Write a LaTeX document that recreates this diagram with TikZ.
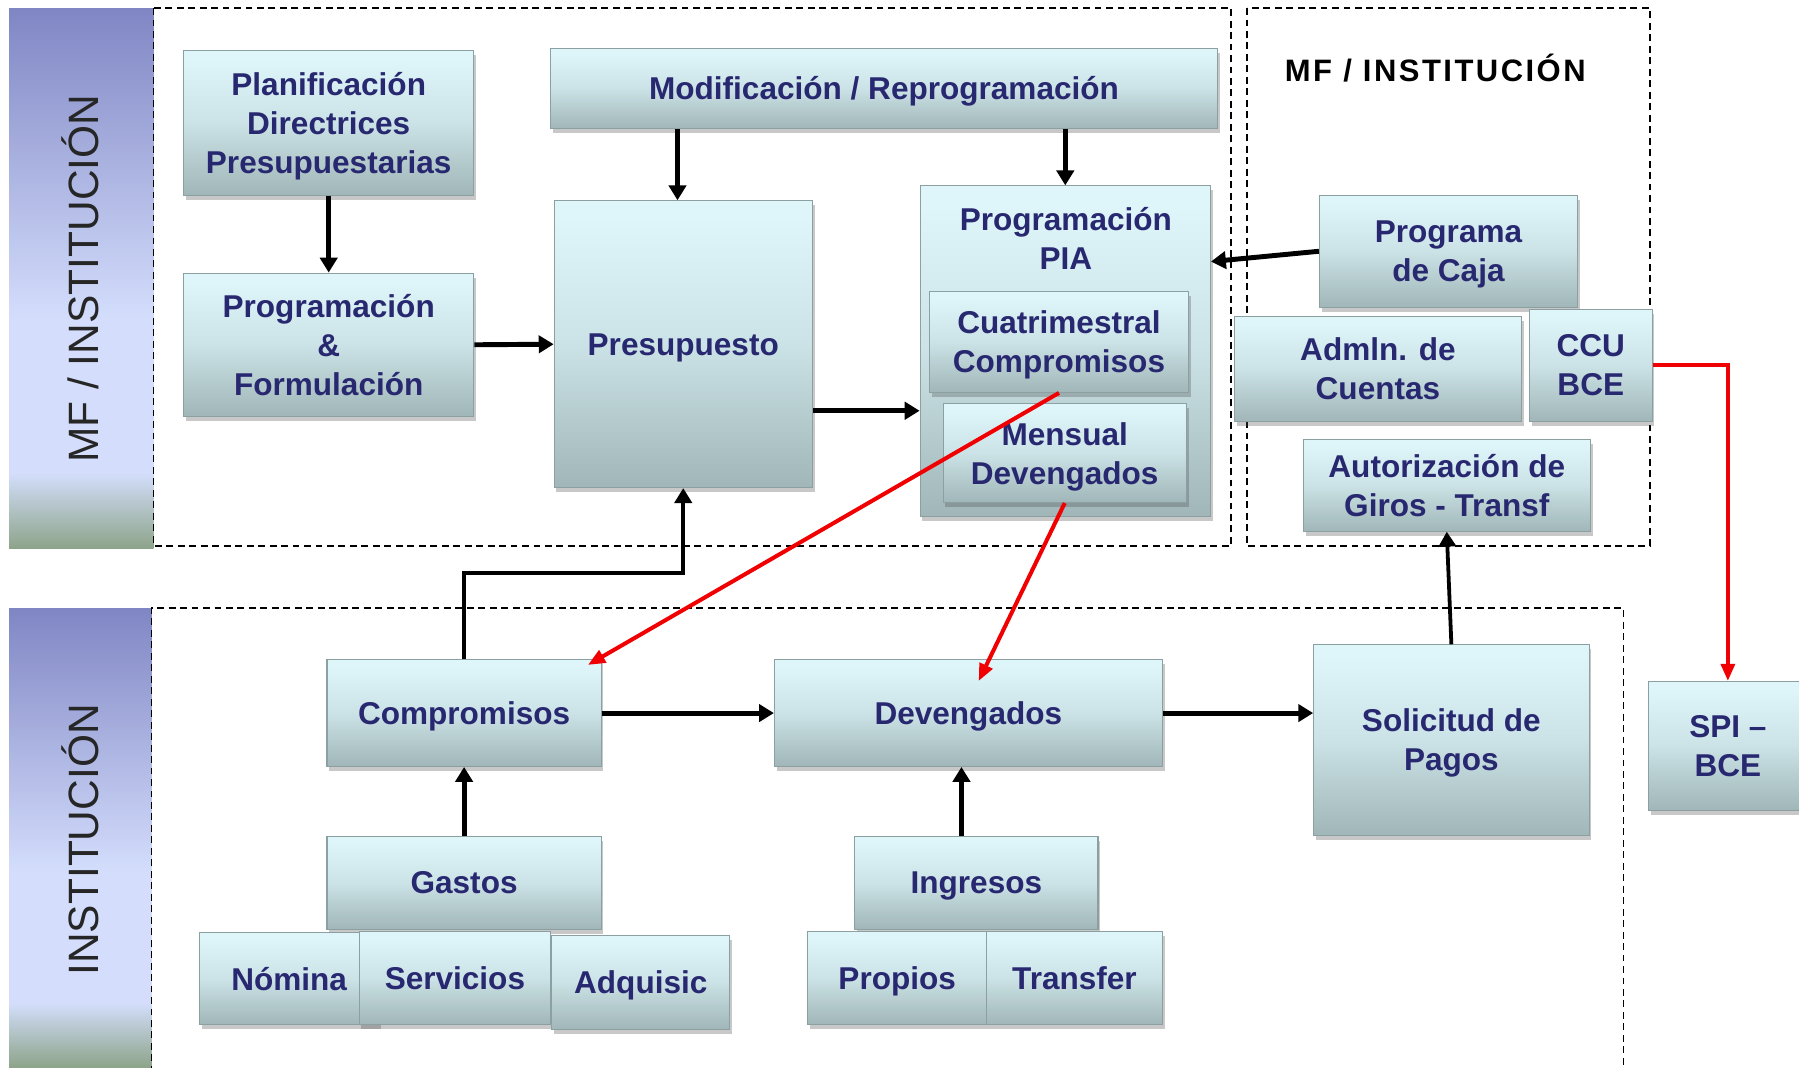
\documentclass[tikz,border=0pt]{standalone}
\usepackage{fontspec}
\setmainfont{Liberation Sans}
\usetikzlibrary{shadows,arrows.meta,calc}
\definecolor{navy}{RGB}{40,40,112}
\definecolor{boxtop}{RGB}{222,245,249}
\definecolor{boxmid}{RGB}{203,226,230}
\definecolor{boxbot}{RGB}{160,182,184}
\definecolor{boxedge}{RGB}{140,160,162}
\definecolor{bandtop}{RGB}{128,134,196}
\definecolor{bandmid}{RGB}{212,222,252}
\definecolor{bandbot}{RGB}{141,164,138}
\definecolor{redline}{RGB}{240,0,0}
\pgfdeclareverticalshading{boxshade}{100bp}{color(0bp)=(boxbot); color(25bp)=(boxbot); color(50bp)=(boxmid); color(72bp)=(boxtop); color(100bp)=(boxtop)}
\pgfdeclareverticalshading{bandshade}{100bp}{color(0bp)=(bandbot); color(25bp)=(bandbot); color(32bp)=(bandmid); color(46bp)=(bandmid); color(75bp)=(bandtop); color(100bp)=(bandtop)}
\tikzset{
  box/.style={draw=boxedge, line width=0.9pt, shade, shading=boxshade, text=navy,
    font=\fontsize{27.5}{34}\selectfont\bfseries, align=center, inner sep=0pt, text depth=0pt,
    drop shadow={shadow xshift=2pt, shadow yshift=-4pt, opacity=0.3, fill=black!70}},
  plain/.style={text=navy, font=\fontsize{27.5}{34}\selectfont\bfseries, align=center, inner sep=0pt},
  blk/.style={draw=black, line width=4.3pt, -{Triangle[length=13pt,width=15pt]}},
  redarr/.style={draw=redline, line width=3.5pt, -{Triangle[length=15pt,width=12pt]}},
  region/.style={draw=black, line width=1.3pt, dash pattern=on 6pt off 4pt},
  bandtext/.style={rotate=90, font=\fontsize{37}{40}\selectfont, text=black!85},
}
\begin{document}
\begin{tikzpicture}[x=1pt,y=-1pt]
\clip (0,0) rectangle (1568,930);
\fill[white] (0,0) rectangle (1568,930);
% side bands
\shade[shading=bandshade] (8,7) rectangle (134,478);
\shade[shading=bandshade] (8,530) rectangle (132,930);
\node[bandtext] (bandA) at (70,243) {MF / INSTITUCIÓN};
\node[bandtext] (bandB) at (70,732) {INSTITUCIÓN};
% dashed regions
\draw[region] (134,7) rectangle (1073,476);
\draw[region] (1087,7) rectangle (1438,476);
\draw[region] (132,935) -- (132,530) -- (1415,530) -- (1415,935);
\node[font=\fontsize{27}{30}\selectfont\bfseries\addfontfeature{LetterSpace=8}] (head) at (1251,59) {MF / INSTITUCIÓN};
% top-left boxes
\node[box, minimum width=253pt, minimum height=126pt] (plan) at (286.5,107) {Planificación\\Directrices\\Presupuestarias};
\node[box, minimum width=253pt, minimum height=125pt] (progf) at (286.5,300.5) {Programación\\\&\\Formulación};
\node[box, minimum width=581pt, minimum height=70pt] (modif) at (770.5,77) {Modificación / Reprogramación};
\node[box, minimum width=225pt, minimum height=250pt] (presu) at (595.5,300) {Presupuesto};
\node[box, minimum width=253pt, minimum height=288pt] (pia) at (928.5,306) {};
\node[plain] (pialbl) at (929,208) {Programación\\PIA};
\node[box, minimum width=226pt, minimum height=88pt] (cuat) at (923,298) {Cuatrimestral\\Compromisos};
\node[box, minimum width=212pt, minimum height=86pt] (mens) at (928,395) {Mensual\\Devengados};
% top-right boxes
\node[box, minimum width=225pt, minimum height=98pt] (caja) at (1262.5,219) {Programa\\de Caja};
\node[box, minimum width=250pt, minimum height=91pt] (admin) at (1201,321.5) {Admln. de\\Cuentas};
\node[box, minimum width=107pt, minimum height=97pt] (ccu) at (1386.5,318.5) {CCU\\BCE};
\node[box, minimum width=250pt, minimum height=80pt] (autor) at (1261,423) {Autorización de\\Giros - Transf};
% bottom boxes
\node[box, minimum width=239pt, minimum height=93pt] (comp) at (404.5,621.5) {Compromisos};
\node[box, minimum width=338pt, minimum height=93pt] (deven) at (844,621.5) {Devengados};
\node[box, minimum width=240pt, minimum height=166pt] (solic) at (1265,645) {Solicitud de\\Pagos};
\node[box, minimum width=138pt, minimum height=112pt] (spi) at (1506,650) {SPI –\\BCE};
\node[box, minimum width=239pt, minimum height=81pt] (gastos) at (404.5,769.5) {Gastos};
\node[box, minimum width=156pt, minimum height=80pt] (nomina) at (252,853) {Nómina};
\node[box, minimum width=167pt, minimum height=81pt] (serv) at (396.5,852.5) {Servicios};
\node[box, minimum width=155pt, minimum height=82pt] (adq) at (558.5,856) {Adquisic};
\node[box, minimum width=212pt, minimum height=81pt] (ingr) at (851,769.5) {Ingresos};
\node[box, minimum width=156pt, minimum height=81pt] (propios) at (782,852.5) {Propios};
\node[box, minimum width=153pt, minimum height=81pt] (transf) at (936.5,852.5) {Transfer};
% black connectors
\draw[blk] (plan.south) -- (progf.north);
\draw[blk] (progf.east) -- (presu.west);
\draw[blk] ([xshift=-5pt]modif.south -| presu.north) -- ([xshift=-5pt]presu.north);
\draw[blk] (modif.south -| pia.north) -- (pia.north);
\draw[blk] ([yshift=-58pt]presu.east) -- ([yshift=-58pt]presu.east -| pia.west);
\draw[blk] (caja.west) -- ([yshift=78pt]pia.east);
\draw[blk, line width=3.3pt] (comp.north) -- ++(0,-75) -| (presu.south);
\draw[blk] (gastos.north) -- (comp.south);
\draw[blk] (comp.east) -- (deven.west);
\draw[blk] ([xshift=-13pt]ingr.north) -- ([xshift=-13pt]ingr.north |- deven.south);
\draw[blk] (deven.east) -- (deven.east -| solic.west);
\draw[blk, line width=3.3pt] (solic.north) -- (autor.south);
% red connectors
\draw[redarr] (cuat.south) -- ([xshift=-12pt,yshift=-5pt]comp.north east);
\draw[redarr] (mens.south) -- ([xshift=9pt,yshift=-19pt]deven.north);
\draw[redarr] (ccu.east) -| (spi.north);
\end{tikzpicture}
\end{document}
